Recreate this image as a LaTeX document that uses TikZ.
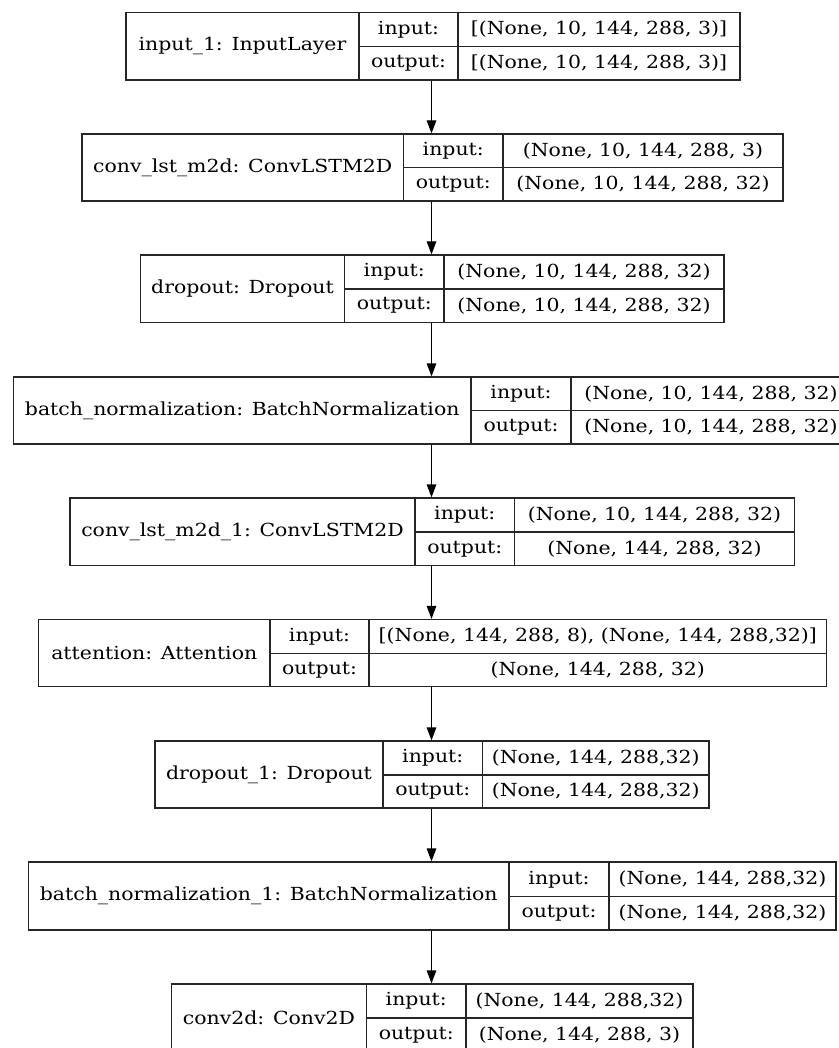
\documentclass[tikz,border=0pt]{standalone}
\usepackage{fontspec}
\setmainfont{DejaVu Serif}[FakeStretch=1.135]
\usetikzlibrary{arrows.meta}
\tikzset{
  cell/.style={draw=black!85, line width=1.2pt, inner sep=0pt, font=\fontsize{18}{20}\selectfont},
  flow/.style={draw=black, line width=1.2pt, -{Triangle[length=13pt,width=9.5pt]}}
}
% one record-style cell, given by its corners (x-left, y-top, x-right, y-bottom)
\newcommand\cell[6]{%
  \node[cell, minimum width=#4pt-#2pt, minimum height=#5pt-#3pt]
    (#1) at ({(#2+#4)/2},{(#3+#5)/2}) {#6};}
% a layer: name, x0, x1, x2, x3, ytop, ymid, ybottom, label, input, output
\newcommand\layer[9]{%
  \cell{#1}{#2}{#6}{#5}{#8}{}%
  \cell{#1-l}{#2}{#6}{#3}{#8}{#9}%
  \layerrest{#1}{#3}{#4}{#5}{#6}{#7}{#8}}
\newcommand\layerrest[9]{%
  \cell{#1-i}{#2}{#5}{#3}{#6}{input:}%
  \cell{#1-o}{#2}{#6}{#3}{#7}{output:}%
  \cell{#1-iv}{#3}{#5}{#4}{#6}{#8}%
  \cell{#1-ov}{#3}{#6}{#4}{#7}{#9}}
\begin{document}
\begin{tikzpicture}[x=1pt,y=-1pt]
\useasboundingbox (0,0) rectangle (838,1048);
\layer{L1}{126}{359}{458}{740}{12.5}{46.5}{80}{input\_1: InputLayer}
  {[(None, 10, 144, 288, 3)]}{[(None, 10, 144, 288, 3)]}
\layer{L2}{82}{403.5}{503}{783}{134}{167.5}{201}{conv\_lst\_m2d: ConvLSTM2D}
  {(None, 10, 144, 288, 3)}{(None, 10, 144, 288, 32)}
\layer{L3}{140.5}{344.5}{444}{724}{255}{289}{322.5}{dropout: Dropout}
  {(None, 10, 144, 288, 32)}{(None, 10, 144, 288, 32)}
\layer{L4}{13.5}{471}{571}{851}{377}{410.5}{444}{batch\_normalization: BatchNormalization}
  {(None, 10, 144, 288, 32)}{(None, 10, 144, 288, 32)}
\layer{L5}{70}{415}{514.5}{794.5}{498}{532}{565.5}{conv\_lst\_m2d\_1: ConvLSTM2D}
  {(None, 10, 144, 288, 32)}{(None, 144, 288, 32)}
\layer{L6}{38.5}{270}{369}{826.5}{619.5}{653.5}{686.5}{attention: Attention}
  {[(None, 144, 288, 8), (None, 144, 288,32)]}{(None, 144, 288, 32)}
\layer{L7}{155}{383}{482.5}{709}{741}{775}{808}{dropout\_1: Dropout}
  {(None, 144, 288,32)}{(None, 144, 288,32)}
\layer{L8}{28.5}{509}{609}{836}{862}{896.5}{930}{batch\_normalization\_1: BatchNormalization}
  {(None, 144, 288,32)}{(None, 144, 288,32)}
\layer{L9}{171.5}{366.5}{466}{693}{984}{1018}{1052}{conv2d: Conv2D}
  {(None, 144, 288,32)}{(None, 144, 288, 3)}
\foreach \a/\b in {L1/L2,L2/L3,L3/L4,L4/L5,L5/L6,L6/L7,L7/L8,L8/L9}
  \draw[flow] (\a.south -| 431.5,0) -- (\b.north -| 431.5,0);
\end{tikzpicture}
\end{document}
